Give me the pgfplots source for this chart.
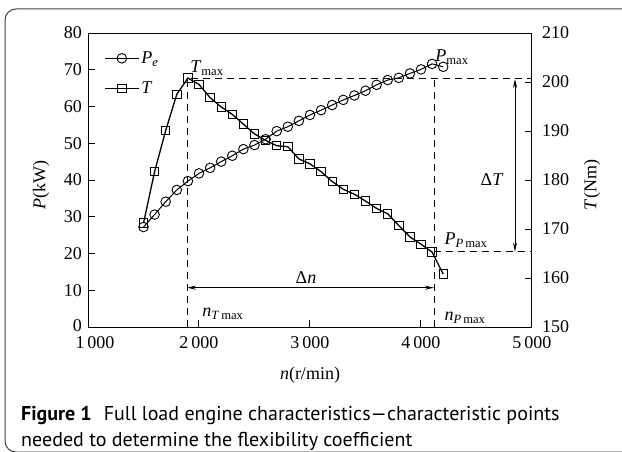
\documentclass[border=0pt]{standalone}
\usepackage{fontspec}
\setmainfont{Liberation Serif}
\newfontfamily\capfont{PT Sans}
\usepackage{pgfplots}
\pgfplotsset{compat=1.18}
\usetikzlibrary{arrows.meta}
\pgfplotstableread{
n P
1500 27.2
1600 30.6
1700 34.1
1800 37.3
1900 39.7
2000 41.8
2100 43.3
2200 45.0
2300 46.6
2400 48.4
2500 49.5
2600 51.1
2700 53.3
2800 54.5
2900 56.1
3000 57.7
3100 59.0
3200 60.4
3300 61.8
3400 63.0
3500 64.3
3600 65.9
3700 67.2
3800 67.8
3900 69.0
4000 70.1
4100 71.6
4200 70.8
}\Pdata
\pgfplotstableread{
n T
1500 171.2
1600 181.7
1700 190.1
1800 197.5
1900 200.8
2000 199.5
2100 196.8
2200 194.9
2300 193.4
2400 191.4
2500 189.4
2600 188.1
2700 187.0
2800 186.8
2900 184.3
3000 183.3
3100 181.7
3200 179.7
3300 178.1
3400 177.1
3500 175.7
3600 174.2
3700 173.1
3800 170.7
3900 168.4
4000 166.9
4100 165.3
4200 160.8
}\Tdata
\begin{document}
\begin{tikzpicture}[x=1pt,y=1pt]
\useasboundingbox (0,0) rectangle (622,451);
\draw[line width=1pt, black!75, rounded corners=11pt] (5,-1) rectangle (660,442);
\pgfplotsset{
  common/.style={
    at={(88pt,124pt)}, anchor=south west,
    scale only axis, width=444pt, height=294pt,
    xmin=1000, xmax=5000,
    tick align=inside, major tick length=7pt,
    tick style={line width=1pt, black},
    axis line style={line width=1pt},
    /pgf/number format/assume math mode=true,
    tick label style={font=\fontsize{18}{18}\selectfont, inner sep=1pt},
  },
}
\begin{axis}[common,
  ymin=0, ymax=80, ytick={0,10,...,80},
  yticklabels={{\raisebox{3pt}{0}},10,20,30,40,50,60,70,80},
  xtick={1000,2000,3000,4000,5000},
  xticklabels={{\hspace*{14pt}1\,000},{2\,000},{3\,000},{4\,000},{5\,000}},
  xtick pos=lower, ytick pos=left,
  xticklabel style={yshift=-8pt},
  yticklabel style={xshift=-5pt},
  legend style={draw=none, fill=none, at={(0.036,0.944)}, anchor=north west,
    font=\fontsize{18}{18}\selectfont, row sep=13pt, inner sep=0pt},
  legend cell align=left,
  legend image code/.code={\draw[mark repeat=2,mark phase=2] plot coordinates {(0pt,0pt) (17pt,0pt) (34pt,0pt)};},
]
\addplot[black, line width=1pt, mark=o, mark size=4.8pt, mark options={fill=white, line width=0.9pt}] table[x=n,y=P] {\Pdata};
\addlegendentry{\textit{P}\textsubscript{\textit{e}}}
\addlegendimage{black, line width=1.3pt, mark=square, mark size=4.2pt, mark options={fill=white, line width=0.9pt}}
\addlegendentry{\textit{T}}
\draw[dashed, line width=0.9pt, dash pattern=on 7pt off 5pt] (axis cs:1892,0) -- (axis cs:1892,67.5) -- (axis cs:5000,67.5);
\draw[dashed, line width=0.9pt, dash pattern=on 7pt off 5pt] (axis cs:4117,0) -- (axis cs:4117,67.5);
\draw[dashed, line width=0.9pt, dash pattern=on 7pt off 5pt] (axis cs:4117,20.5) -- (axis cs:5000,20.5);
\draw[line width=0.9pt, {Stealth[length=9pt,width=4pt]}-{Stealth[length=9pt,width=4pt]}] (axis cs:1892,10.7) -- (axis cs:4117,10.7);
\draw[line width=0.9pt, {Stealth[length=9pt,width=4pt]}-{Stealth[length=9pt,width=4pt]}] (axis cs:4847,67.5) -- (axis cs:4847,20.5);
\end{axis}
\begin{axis}[common,
  ymin=150, ymax=210, ytick={150,160,...,210},
  axis y line*=right, axis x line=none,
  yticklabel style={xshift=9pt},
]
\addplot[black, line width=1.3pt, mark=square, mark size=4.2pt, mark options={fill=white, line width=0.9pt}] table[x=n,y=T] {\Tdata};
\end{axis}
\begin{scope}[font=\fontsize{18}{18}\selectfont]
\node at (207,383) {\textit{T}\textsubscript{max}};
\node at (452,394) {\textit{P}\textsubscript{max}};
\node at (492,271) {Δ\textit{T}};
\node at (466,211) {\textit{P}\textsubscript{\textit{P}\,max}};
\node at (306,173) {Δ\textit{n}};
\node at (223,137) {\textit{n}\textsubscript{\textit{T}\,max}};
\node at (465,133) {\textit{n}\textsubscript{\textit{P}\,max}};
\node[rotate=90] at (41,266) {\textit{P}(kW)};
\node[rotate=90] at (592,266) {\textit{T}(Nm)};
\node at (310,76) {\textit{n}(r/min)};
\end{scope}
\node[anchor=base west, font=\capfont\fontsize{20}{20}\selectfont, inner sep=0pt] at (21,31) {\textbf{Figure 1}\hspace{12pt}Full load engine characteristics—characteristic points};
\node[anchor=base west, font=\capfont\fontsize{20}{20}\selectfont, inner sep=0pt] at (21,5) {needed to determine the flexibility coefficient};
\end{tikzpicture}
\end{document}
